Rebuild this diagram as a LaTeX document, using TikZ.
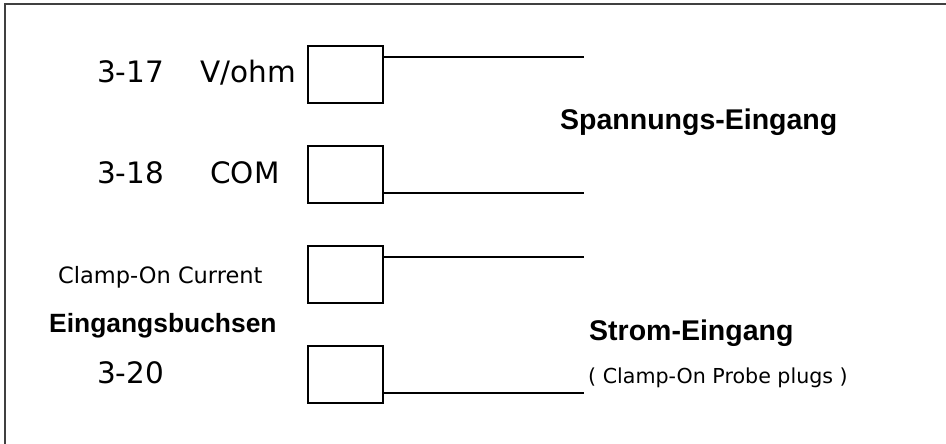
\documentclass[tikz,border=0pt]{standalone}
\usepackage{fontspec}
\setmainfont{DejaVu Sans}
\newfontfamily\arialfont{Liberation Sans}
\tikzset{
  jack/.style={draw, line width=1.4pt, minimum width=75pt, minimum height=57pt, inner sep=0pt},
  pinlabel/.style={anchor=base west, inner sep=0pt, font=\fontsize{29.5}{32}\selectfont},
  smalllabel/.style={anchor=base west, inner sep=0pt, font=\fontsize{22.5}{25}\selectfont},
  headlabel/.style={anchor=base west, inner sep=0pt, font=\arialfont\bfseries\fontsize{28.5}{31}\selectfont},
  thinlead/.style={line width=1.2pt},
  thicklead/.style={line width=2.6pt}
}
\begin{document}
\begin{tikzpicture}[x=1pt,y=-1pt]
\useasboundingbox (0,0) rectangle (946,444);
% frame
  \draw[line width=2pt, black!75] (5,444) -- (5,4) -- (946,4);
%-----------------------------------------------------------%
% socket boxes
  \node[jack] (vohm)  at (345.5,74.5)  {};
  \node[jack] (com)   at (345.5,174.5) {};
  \node[jack] (clamp) at (345.5,274.5) {};
  \node[jack] (probe) at (345.5,374.5) {};
% lead ends
  \coordinate (vohmend)  at (584,57);
  \coordinate (comend)   at (584,193);
  \coordinate (clampend) at (584,257);
  \coordinate (probeend) at (584,393);
% leads
  \draw[thinlead]  (vohm.east |- vohmend)   -- (vohmend);
  \draw[thicklead] (com.east |- comend)     -- (comend);
  \draw[thinlead]  (clamp.east |- clampend) -- (clampend);
  \draw[thicklead] (probe.east |- probeend) -- (probeend);
%-----------------------------------------------------------%
% socket labels
  \node[pinlabel] (n317) at (97,83)  {3-17};
  \node[pinlabel] (lvohm) at (200,83) {V/ohm};
  \node[pinlabel] (n318) at (97,183) {3-18};
  \node[pinlabel] (lcom) at (210,183) {COM};
  \node[smalllabel] (lclamp) at (58,283) {Clamp-On Current};
  \node[headlabel, font=\arialfont\bfseries\fontsize{26.4}{29}\selectfont] (lbuchsen) at (49,332) {Eingangsbuchsen};
  \node[pinlabel] (n320) at (97,383) {3-20};
% input labels
  \node[headlabel] (lspannung) at (560,129) {Spannungs-Eingang};
  \node[headlabel] (lstrom) at (589,340) {Strom-Eingang};
  \node[smalllabel, font=\fontsize{20.6}{23}\selectfont] (lplugs) at (588,383) {( Clamp-On Probe plugs )};
\end{tikzpicture}
\end{document}
